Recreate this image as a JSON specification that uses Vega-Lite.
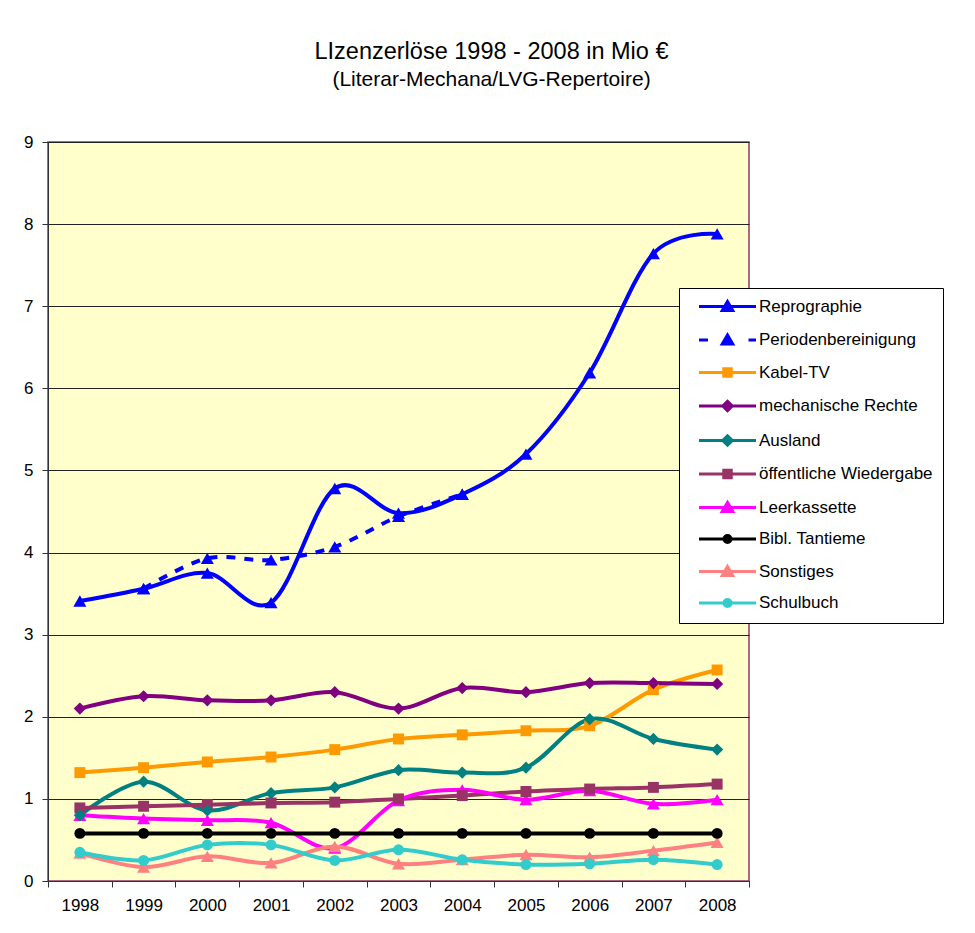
{
  "$schema": "https://vega.github.io/schema/vega-lite/v6.json",
  "width": 701,
  "height": 739,
  "autosize": {"type": "none"},
  "padding": {"left": 48, "top": 142, "right": 226, "bottom": 52},
  "background": "white",
  "title": {
    "text": "LIzenzerlöse 1998 - 2008 in Mio €",
    "subtitle": "(Literar-Mechana/LVG-Repertoire)",
    "anchor": "middle",
    "frame": "group",
    "dx": 93,
    "offset": 43,
    "font": "Liberation Sans",
    "fontSize": 23.5,
    "fontWeight": "normal",
    "color": "black",
    "subtitleFont": "Liberation Sans",
    "subtitleFontSize": 21,
    "subtitleColor": "black",
    "subtitlePadding": 6
  },
  "config": {
    "font": "Liberation Sans",
    "view": {"fill": "#FFFFCC", "stroke": "#8B3A62", "strokeWidth": 1.5}
  },
  "data": {
    "values": [
      {"year": "1998", "series": "Reprographie", "value": 3.41},
      {"year": "1999", "series": "Reprographie", "value": 3.56},
      {"year": "2000", "series": "Reprographie", "value": 3.75},
      {"year": "2001", "series": "Reprographie", "value": 3.39},
      {"year": "2002", "series": "Reprographie", "value": 4.78},
      {"year": "2003", "series": "Reprographie", "value": 4.48},
      {"year": "2004", "series": "Reprographie", "value": 4.71},
      {"year": "2005", "series": "Reprographie", "value": 5.2},
      {"year": "2006", "series": "Reprographie", "value": 6.19},
      {"year": "2007", "series": "Reprographie", "value": 7.64},
      {"year": "2008", "series": "Reprographie", "value": 7.88},
      {"year": "1999", "series": "Periodenbereinigung", "value": 3.56},
      {"year": "2000", "series": "Periodenbereinigung", "value": 3.93},
      {"year": "2001", "series": "Periodenbereinigung", "value": 3.91},
      {"year": "2002", "series": "Periodenbereinigung", "value": 4.07},
      {"year": "2003", "series": "Periodenbereinigung", "value": 4.44},
      {"year": "2004", "series": "Periodenbereinigung", "value": 4.71},
      {"year": "1998", "series": "Kabel-TV", "value": 1.32},
      {"year": "1999", "series": "Kabel-TV", "value": 1.38},
      {"year": "2000", "series": "Kabel-TV", "value": 1.45},
      {"year": "2001", "series": "Kabel-TV", "value": 1.51},
      {"year": "2002", "series": "Kabel-TV", "value": 1.6},
      {"year": "2003", "series": "Kabel-TV", "value": 1.73},
      {"year": "2004", "series": "Kabel-TV", "value": 1.78},
      {"year": "2005", "series": "Kabel-TV", "value": 1.83},
      {"year": "2006", "series": "Kabel-TV", "value": 1.89},
      {"year": "2007", "series": "Kabel-TV", "value": 2.33},
      {"year": "2008", "series": "Kabel-TV", "value": 2.57},
      {"year": "1998", "series": "mechanische Rechte", "value": 2.1},
      {"year": "1999", "series": "mechanische Rechte", "value": 2.25},
      {"year": "2000", "series": "mechanische Rechte", "value": 2.2},
      {"year": "2001", "series": "mechanische Rechte", "value": 2.2},
      {"year": "2002", "series": "mechanische Rechte", "value": 2.3},
      {"year": "2003", "series": "mechanische Rechte", "value": 2.1},
      {"year": "2004", "series": "mechanische Rechte", "value": 2.35},
      {"year": "2005", "series": "mechanische Rechte", "value": 2.3},
      {"year": "2006", "series": "mechanische Rechte", "value": 2.41},
      {"year": "2007", "series": "mechanische Rechte", "value": 2.41},
      {"year": "2008", "series": "mechanische Rechte", "value": 2.4},
      {"year": "1998", "series": "Ausland", "value": 0.8},
      {"year": "1999", "series": "Ausland", "value": 1.21},
      {"year": "2000", "series": "Ausland", "value": 0.86},
      {"year": "2001", "series": "Ausland", "value": 1.07},
      {"year": "2002", "series": "Ausland", "value": 1.14},
      {"year": "2003", "series": "Ausland", "value": 1.35},
      {"year": "2004", "series": "Ausland", "value": 1.32},
      {"year": "2005", "series": "Ausland", "value": 1.38},
      {"year": "2006", "series": "Ausland", "value": 1.97},
      {"year": "2007", "series": "Ausland", "value": 1.73},
      {"year": "2008", "series": "Ausland", "value": 1.6},
      {"year": "1998", "series": "öffentliche Wiedergabe", "value": 0.89},
      {"year": "1999", "series": "öffentliche Wiedergabe", "value": 0.91},
      {"year": "2000", "series": "öffentliche Wiedergabe", "value": 0.93},
      {"year": "2001", "series": "öffentliche Wiedergabe", "value": 0.95},
      {"year": "2002", "series": "öffentliche Wiedergabe", "value": 0.96},
      {"year": "2003", "series": "öffentliche Wiedergabe", "value": 1.0},
      {"year": "2004", "series": "öffentliche Wiedergabe", "value": 1.04},
      {"year": "2005", "series": "öffentliche Wiedergabe", "value": 1.09},
      {"year": "2006", "series": "öffentliche Wiedergabe", "value": 1.12},
      {"year": "2007", "series": "öffentliche Wiedergabe", "value": 1.14},
      {"year": "2008", "series": "öffentliche Wiedergabe", "value": 1.18},
      {"year": "1998", "series": "Leerkassette", "value": 0.8},
      {"year": "1999", "series": "Leerkassette", "value": 0.76},
      {"year": "2000", "series": "Leerkassette", "value": 0.74},
      {"year": "2001", "series": "Leerkassette", "value": 0.71},
      {"year": "2002", "series": "Leerkassette", "value": 0.4},
      {"year": "2003", "series": "Leerkassette", "value": 0.98},
      {"year": "2004", "series": "Leerkassette", "value": 1.11},
      {"year": "2005", "series": "Leerkassette", "value": 0.99},
      {"year": "2006", "series": "Leerkassette", "value": 1.1},
      {"year": "2007", "series": "Leerkassette", "value": 0.94},
      {"year": "2008", "series": "Leerkassette", "value": 0.99},
      {"year": "1998", "series": "Bibl. Tantieme", "value": 0.58},
      {"year": "1999", "series": "Bibl. Tantieme", "value": 0.58},
      {"year": "2000", "series": "Bibl. Tantieme", "value": 0.58},
      {"year": "2001", "series": "Bibl. Tantieme", "value": 0.58},
      {"year": "2002", "series": "Bibl. Tantieme", "value": 0.58},
      {"year": "2003", "series": "Bibl. Tantieme", "value": 0.58},
      {"year": "2004", "series": "Bibl. Tantieme", "value": 0.58},
      {"year": "2005", "series": "Bibl. Tantieme", "value": 0.58},
      {"year": "2006", "series": "Bibl. Tantieme", "value": 0.58},
      {"year": "2007", "series": "Bibl. Tantieme", "value": 0.58},
      {"year": "2008", "series": "Bibl. Tantieme", "value": 0.58},
      {"year": "1998", "series": "Sonstiges", "value": 0.34},
      {"year": "1999", "series": "Sonstiges", "value": 0.17},
      {"year": "2000", "series": "Sonstiges", "value": 0.3},
      {"year": "2001", "series": "Sonstiges", "value": 0.22},
      {"year": "2002", "series": "Sonstiges", "value": 0.42},
      {"year": "2003", "series": "Sonstiges", "value": 0.21},
      {"year": "2004", "series": "Sonstiges", "value": 0.26},
      {"year": "2005", "series": "Sonstiges", "value": 0.32},
      {"year": "2006", "series": "Sonstiges", "value": 0.29},
      {"year": "2007", "series": "Sonstiges", "value": 0.37},
      {"year": "2008", "series": "Sonstiges", "value": 0.47},
      {"year": "1998", "series": "Schulbuch", "value": 0.35},
      {"year": "1999", "series": "Schulbuch", "value": 0.25},
      {"year": "2000", "series": "Schulbuch", "value": 0.44},
      {"year": "2001", "series": "Schulbuch", "value": 0.44},
      {"year": "2002", "series": "Schulbuch", "value": 0.25},
      {"year": "2003", "series": "Schulbuch", "value": 0.38},
      {"year": "2004", "series": "Schulbuch", "value": 0.26},
      {"year": "2005", "series": "Schulbuch", "value": 0.2},
      {"year": "2006", "series": "Schulbuch", "value": 0.21},
      {"year": "2007", "series": "Schulbuch", "value": 0.26},
      {"year": "2008", "series": "Schulbuch", "value": 0.2}
    ]
  },
  "encoding": {
    "x": {
      "field": "year",
      "type": "ordinal",
      "scale": {"type": "band", "paddingInner": 0, "paddingOuter": 0},
      "axis": {
        "title": null,
        "labelAngle": 0,
        "tickBand": "extent",
        "labelFontSize": 17,
        "labelColor": "black",
        "labelFont": "Liberation Sans",
        "tickSize": 6,
        "tickColor": "#333333",
        "domainColor": "#333333",
        "labelPadding": 10,
        "grid": false
      }
    },
    "y": {
      "field": "value",
      "type": "quantitative",
      "scale": {"domain": [0, 9], "nice": false},
      "axis": {
        "title": null,
        "values": [0, 1, 2, 3, 4, 5, 6, 7, 8, 9],
        "grid": true,
        "gridColor": "#222222",
        "gridWidth": 1,
        "gridOpacity": 1,
        "tickSize": 6,
        "tickColor": "#333333",
        "domainColor": "#333333",
        "labelFontSize": 17,
        "labelColor": "black",
        "labelFont": "Liberation Sans",
        "labelPadding": 9
      }
    },
    "color": {
      "field": "series",
      "type": "nominal",
      "scale": {
        "domain": ["Reprographie", "Periodenbereinigung", "Kabel-TV", "mechanische Rechte", "Ausland", "öffentliche Wiedergabe", "Leerkassette", "Bibl. Tantieme", "Sonstiges", "Schulbuch"],
        "range": ["#0000FF", "#0000FF", "#FF9900", "#800080", "#008080", "#993366", "#FF00FF", "#000000", "#FF8080", "#33CCCC"]
      },
      "legend": {
        "title": null,
        "orient": "none",
        "legendX": 631,
        "legendY": 146,
        "fillColor": "white",
        "strokeColor": "black",
        "padding": 10,
        "labelFont": "Liberation Sans",
        "labelFontSize": 17,
        "labelColor": "black",
        "labelLimit": 300,
        "symbolType": "circle",
        "symbolSize": 100,
        "symbolStrokeWidth": 3,
        "symbolOffset": 30,
        "labelOffset": 23,
        "rowPadding": 11.5,
        "encode": {
          "symbols": {
            "update": {
              "shape": {"signal": "indexof(['Reprographie','Leerkassette','Sonstiges'], datum.value) >= 0 ? 'M-5.7,0H5.7M0,-1L1.05,0.8L-1.05,0.8Z' : datum.value === 'Periodenbereinigung' ? 'M-5.7,0H-3.9M4.2,0H5.7M0,-1L1.05,0.8L-1.05,0.8Z' : indexof(['Kabel-TV','öffentliche Wiedergabe'], datum.value) >= 0 ? 'M-5.7,0H5.7M-0.75,-0.75H0.75V0.75H-0.75Z' : indexof(['mechanische Rechte','Ausland'], datum.value) >= 0 ? 'M-5.7,0H5.7M0,-0.95L0.95,0L0,0.95L-0.95,0Z' : 'M-5.7,0H5.7M-0.7,0A0.7,0.7,0,1,0,0.7,0A0.7,0.7,0,1,0,-0.7,0Z'"},
              "fill": {"scale": "color", "field": "value"},
              "stroke": {"scale": "color", "field": "value"},
              "strokeWidth": {"value": 3},
              "opacity": {"value": 1},
              "size": {"value": 100}
            }
          }
        }
      }
    }
  },
  "layer": [
    {
      "transform": [{"filter": "datum.series !== 'Periodenbereinigung'"}],
      "mark": {"type": "line", "strokeWidth": 4, "interpolate": "cardinal", "tension": 0}
    },
    {
      "transform": [{"filter": "datum.series === 'Periodenbereinigung'"}],
      "mark": {"type": "line", "strokeWidth": 4, "interpolate": "cardinal", "tension": 0, "strokeDash": [9, 9]}
    },
    {
      "transform": [{"filter": "indexof(['Reprographie','Periodenbereinigung','Leerkassette','Sonstiges'], datum.series) >= 0"}],
      "mark": {"type": "point", "filled": true, "opacity": 1, "shape": "triangle-up", "size": 170}
    },
    {
      "transform": [{"filter": "indexof(['Kabel-TV','öffentliche Wiedergabe'], datum.series) >= 0"}],
      "mark": {"type": "point", "filled": true, "opacity": 1, "shape": "square", "size": 120}
    },
    {
      "transform": [{"filter": "indexof(['mechanische Rechte','Ausland'], datum.series) >= 0"}],
      "mark": {"type": "point", "filled": true, "opacity": 1, "shape": "diamond", "size": 150}
    },
    {
      "transform": [{"filter": "indexof(['Bibl. Tantieme','Schulbuch'], datum.series) >= 0"}],
      "mark": {"type": "point", "filled": true, "opacity": 1, "shape": "circle", "size": 120}
    }
  ]
}
